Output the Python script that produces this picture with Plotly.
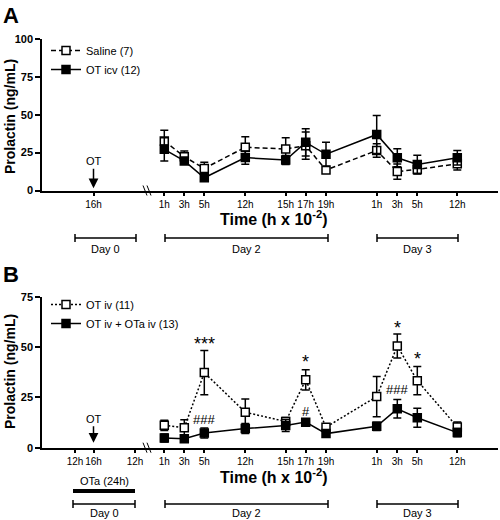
import plotly.graph_objects as go

# ---------------- data ----------------
tick_labels_a = ["16h", "1h", "3h", "5h", "12h", "15h", "17h", "19h", "1h", "3h", "5h", "12h"]
tick_labels_b = ["12h", "16h", "12h", "1h", "3h", "5h", "12h", "15h", "17h", "19h", "1h", "3h", "5h", "12h"]
sample_labels = ["D2 1h", "D2 3h", "D2 5h", "D2 12h", "D2 15h", "D2 17h", "D2 19h",
                 "D3 1h", "D3 3h", "D3 5h", "D3 12h"]

saline_mean = [32.7, 22.3, 14.6, 28.5, 27.4, 29.6, 13.5, 26.4, 12.5, 13.9, 17.6]
saline_sem = [7.0, 3.7, 4.0, 7.0, 7.5, 9.0, 2.0, 4.4, 5.0, 3.0, 4.0]
oticv_mean = [27.2, 19.5, 8.4, 21.7, 20.1, 31.8, 23.9, 37.0, 21.6, 17.2, 21.6]
oticv_sem = [7.7, 2.0, 1.5, 4.4, 3.0, 9.0, 8.0, 12.5, 6.0, 6.0, 4.8]

otiv_mean = [11.1, 9.9, 37.3, 17.6, 13.0, 33.7, 10.2, 25.4, 50.5, 33.3, 10.3]
otiv_sem = [2.5, 4.0, 11.0, 6.6, 2.0, 5.0, 1.5, 10.0, 6.0, 7.0, 2.5]
otota_mean = [4.8, 4.5, 7.3, 9.5, 11.0, 12.7, 7.0, 10.6, 19.3, 14.9, 7.5]
otota_sem = [2.0, 1.5, 2.5, 2.5, 3.0, 1.0, 1.5, 2.0, 4.6, 4.7, 2.0]

# significance marks (panel B): sample label, text, y level
sig_marks = [("D2 5h", "***", 54.5), ("D2 5h", "###", 13.8),
             ("D2 17h", "*", 45.5), ("D2 17h", "#", 18.2),
             ("D3 3h", "*", 62.4), ("D3 5h", "*", 47.0), ("D3 3h", "###", 28.7)]

# ---------------- layout positions (custom broken time axis) ----------------
sample_pos = [122.3, 142.3, 162.3, 203.3, 243.7, 263.7, 284.0, 334.7, 355.3, 375.3, 415.3]
pos_of = dict(zip(sample_labels, sample_pos))
tick_pos_a = [51.5] + sample_pos
tick_pos_b = [33.0, 51.5, 93.0] + sample_pos
OT_POS = 51.5

W, H = 500, 520
FONT = "Arial, Liberation Sans, sans-serif"


def px(x):
    return x / W


def py(y):
    return 1 - y / H


XD = [px(42), px(498)]
YA = [py(190.5), py(39)]
YB = [py(447.7), py(296.7)]

fig = go.Figure()


def add_series(xa, ya, mean, sem, name, filled, dash, legend):
    fig.add_trace(go.Scatter(
        x=sample_pos, y=mean, xaxis=xa, yaxis=ya, name=name, legend=legend,
        mode="lines+markers",
        line=dict(color="black", width=1.5, dash=dash),
        marker=dict(symbol="square", size=8,
                    color="black" if filled else "white",
                    line=dict(color="black", width=1.5)),
        error_y=dict(type="data", array=sem, visible=True, color="black",
                     thickness=1.5, width=4),
    ))


add_series("x", "y", saline_mean, saline_sem, "Saline (7)", False, "5px,3px", "legend")
add_series("x", "y", oticv_mean, oticv_sem, "OT icv (12)", True, "solid", "legend")
add_series("x2", "y2", otiv_mean, otiv_sem, "OT iv (11)", False, "2px,2px", "legend2")
add_series("x2", "y2", otota_mean, otota_sem, "OT iv + OTa iv (13)", True, "solid", "legend2")

axis_common = dict(showline=True, linecolor="black", linewidth=1.5, ticks="outside",
                   tickcolor="black", tickwidth=1.5, showgrid=False, zeroline=False,
                   automargin=False)

fig.update_layout(
    width=W, height=H, margin=dict(l=0, r=0, t=0, b=0, autoexpand=False),
    paper_bgcolor="white", plot_bgcolor="white",
    font=dict(family=FONT, color="black"),
    xaxis=dict(domain=XD, range=[0, 456], anchor="y", tickvals=tick_pos_a, ticktext=tick_labels_a,
               ticklen=4, tickangle=0, tickfont=dict(size=10), **axis_common),
    yaxis=dict(domain=YA, range=[0, 100], anchor="x", tickvals=[0, 25, 50, 75, 100],
               ticklen=5, tickfont=dict(size=11, weight="bold"), **axis_common),
    xaxis2=dict(domain=XD, range=[0, 456], anchor="y2", tickvals=tick_pos_b, ticktext=tick_labels_b,
                ticklen=4, tickangle=0, tickfont=dict(size=10), **axis_common),
    yaxis2=dict(domain=YB, range=[0, 75], anchor="x2", tickvals=[0, 25, 50, 75],
                ticklen=5, tickfont=dict(size=11, weight="bold"), **axis_common),
    legend=dict(x=px(46), y=py(36), xanchor="left", yanchor="top", bgcolor="rgba(0,0,0,0)",
                font=dict(size=11), itemwidth=30, tracegroupgap=0),
    legend2=dict(x=px(46), y=py(290), xanchor="left", yanchor="top", bgcolor="rgba(0,0,0,0)",
                 font=dict(size=11), itemwidth=30, tracegroupgap=0),
    showlegend=True,
)

ann = []
shapes = []


def ptext(text, x, y, size, angle=0, xanchor="center"):
    ann.append(dict(text=text, x=px(x), y=py(y), xref="paper", yref="paper", xanchor=xanchor,
                    yanchor="middle", textangle=angle, showarrow=False, font=dict(size=size)))


# panel letters
ptext("<b>A</b>", 1, 15, 22, xanchor="left")
ptext("<b>B</b>", 1, 274, 22, xanchor="left")

for ycen in [117, 372]:
    ptext("<b>Prolactin (ng/mL)</b>", 10, ycen, 14, angle=-90)

for yt in [218, 476]:
    ptext("<b>Time (h x 10<sup>-2</sup>)</b>", 273, yt, 16)

# OT injection arrows
ann.append(dict(text="OT", x=OT_POS, y=1.5, xref="x", yref="y", showarrow=True, ax=0, ay=-27,
                arrowhead=2, arrowsize=1.3, arrowwidth=1.5, arrowcolor="black", font=dict(size=11)))
ann.append(dict(text="OT", x=OT_POS, y=2.5, xref="x2", yref="y2", showarrow=True, ax=0, ay=-24,
                arrowhead=2, arrowsize=1.3, arrowwidth=1.5, arrowcolor="black", font=dict(size=11)))

# significance
for lab, txt, yv in sig_marks:
    star = "*" in txt
    ann.append(dict(text=txt, x=pos_of[lab], y=yv, xref="x2", yref="y2", showarrow=False,
                    xanchor="center", yanchor="middle",
                    yshift=-6 if star else 0, font=dict(size=18 if star else 13)))


# day brackets
def bracket(x0, x1, y, label, dy):
    shapes.append(dict(type="line", xref="paper", yref="paper", x0=px(x0), x1=px(x1), y0=py(y), y1=py(y),
                       line=dict(color="black", width=1.5)))
    for xx in (x0, x1):
        shapes.append(dict(type="line", xref="paper", yref="paper", x0=px(xx), x1=px(xx),
                           y0=py(y - 4), y1=py(y + 4), line=dict(color="black", width=1.5)))
    ptext(label, (x0 + x1) / 2, y + dy, 11)


for yb, dy, d0 in [(238, 11, (75, 136)), (504, 9, (73, 135))]:
    bracket(d0[0], d0[1], yb, "Day 0", dy)
    bracket(165, 328, yb, "Day 2", dy)
    bracket(377, 458, yb, "Day 3", dy)

# OTa infusion bar
shapes.append(dict(type="line", xref="paper", yref="paper", x0=px(73), x1=px(135), y0=py(491), y1=py(491),
                   line=dict(color="black", width=4)))
ptext("OTa (24h)", 104, 481, 11)

# axis break marks
for yax in [190.5, 447.7]:
    for xb in [145, 149]:
        shapes.append(dict(type="line", xref="paper", yref="paper", x0=px(xb - 2), x1=px(xb + 2),
                           y0=py(yax - 5), y1=py(yax + 5), line=dict(color="black", width=1)))

fig.update_layout(annotations=ann, shapes=shapes)
fig.write_html("out.html", config={"displayModeBar": False},
               post_script="document.body.style.margin='0';document.body.style.overflow='hidden';")
